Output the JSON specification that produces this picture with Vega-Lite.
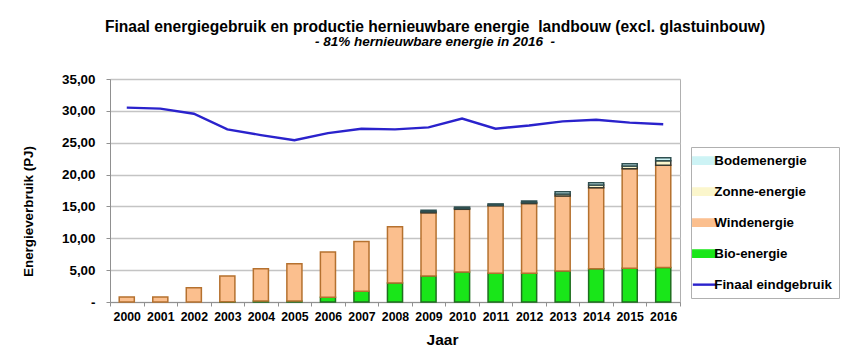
{
  "$schema": "https://vega.github.io/schema/vega-lite/v6.json",
  "autosize": {"type": "none"},
  "width": 570,
  "height": 223,
  "padding": {"left": 110, "top": 79, "right": 179, "bottom": 62},
  "config": {
    "font": "Liberation Sans",
    "view": {"stroke": "#b0b0b0"},
    "axis": {"labelFont": "Liberation Sans", "titleFont": "Liberation Sans", "labelColor": "#000", "titleColor": "#000"}
  },
  "title": {
    "text": "Finaal energiegebruik en productie hernieuwbare energie\u00a0 landbouw (excl. glastuinbouw)",
    "subtitle": "- 81% hernieuwbare energie in 2016\u00a0 -",
    "anchor": "middle",
    "dx": 40,
    "offset": 24,
    "fontSize": 15.6,
    "fontWeight": "bold",
    "color": "#000",
    "subtitleFontSize": 13.5,
    "subtitleFontWeight": "bold",
    "subtitleFontStyle": "italic",
    "subtitleColor": "#000",
    "subtitlePadding": -1
  },
  "datasets": {
    "bars": [
      {"jaar": "2000", "bron": "Windenergie", "pj": 0.8},
      {"jaar": "2001", "bron": "Windenergie", "pj": 0.8},
      {"jaar": "2002", "bron": "Windenergie", "pj": 2.25},
      {"jaar": "2003", "bron": "Bio-energie", "pj": 0.05},
      {"jaar": "2003", "bron": "Windenergie", "pj": 4.05},
      {"jaar": "2004", "bron": "Bio-energie", "pj": 0.15},
      {"jaar": "2004", "bron": "Windenergie", "pj": 5.05},
      {"jaar": "2005", "bron": "Bio-energie", "pj": 0.15},
      {"jaar": "2005", "bron": "Windenergie", "pj": 5.85},
      {"jaar": "2006", "bron": "Bio-energie", "pj": 0.75},
      {"jaar": "2006", "bron": "Windenergie", "pj": 7.1},
      {"jaar": "2007", "bron": "Bio-energie", "pj": 1.7},
      {"jaar": "2007", "bron": "Windenergie", "pj": 7.8},
      {"jaar": "2008", "bron": "Bio-energie", "pj": 3.0},
      {"jaar": "2008", "bron": "Windenergie", "pj": 8.8},
      {"jaar": "2009", "bron": "Bio-energie", "pj": 4.1},
      {"jaar": "2009", "bron": "Windenergie", "pj": 9.9},
      {"jaar": "2009", "bron": "Zonne-energie", "pj": 0.15},
      {"jaar": "2009", "bron": "Bodemenergie", "pj": 0.25},
      {"jaar": "2010", "bron": "Bio-energie", "pj": 4.7},
      {"jaar": "2010", "bron": "Windenergie", "pj": 9.85},
      {"jaar": "2010", "bron": "Zonne-energie", "pj": 0.15},
      {"jaar": "2010", "bron": "Bodemenergie", "pj": 0.2},
      {"jaar": "2011", "bron": "Bio-energie", "pj": 4.5},
      {"jaar": "2011", "bron": "Windenergie", "pj": 10.6},
      {"jaar": "2011", "bron": "Zonne-energie", "pj": 0.1},
      {"jaar": "2011", "bron": "Bodemenergie", "pj": 0.2},
      {"jaar": "2012", "bron": "Bio-energie", "pj": 4.5},
      {"jaar": "2012", "bron": "Windenergie", "pj": 10.95},
      {"jaar": "2012", "bron": "Zonne-energie", "pj": 0.15},
      {"jaar": "2012", "bron": "Bodemenergie", "pj": 0.25},
      {"jaar": "2013", "bron": "Bio-energie", "pj": 4.85},
      {"jaar": "2013", "bron": "Windenergie", "pj": 11.8},
      {"jaar": "2013", "bron": "Zonne-energie", "pj": 0.3},
      {"jaar": "2013", "bron": "Bodemenergie", "pj": 0.35},
      {"jaar": "2014", "bron": "Bio-energie", "pj": 5.2},
      {"jaar": "2014", "bron": "Windenergie", "pj": 12.75},
      {"jaar": "2014", "bron": "Zonne-energie", "pj": 0.4},
      {"jaar": "2014", "bron": "Bodemenergie", "pj": 0.35},
      {"jaar": "2015", "bron": "Bio-energie", "pj": 5.3},
      {"jaar": "2015", "bron": "Windenergie", "pj": 15.6},
      {"jaar": "2015", "bron": "Zonne-energie", "pj": 0.45},
      {"jaar": "2015", "bron": "Bodemenergie", "pj": 0.35},
      {"jaar": "2016", "bron": "Bio-energie", "pj": 5.4},
      {"jaar": "2016", "bron": "Windenergie", "pj": 16.05},
      {"jaar": "2016", "bron": "Zonne-energie", "pj": 0.7},
      {"jaar": "2016", "bron": "Bodemenergie", "pj": 0.5}
    ],
    "lijn": [
      {"jaar": "2000", "pj": 30.5},
      {"jaar": "2001", "pj": 30.35},
      {"jaar": "2002", "pj": 29.55},
      {"jaar": "2003", "pj": 27.1},
      {"jaar": "2004", "pj": 26.2},
      {"jaar": "2005", "pj": 25.4},
      {"jaar": "2006", "pj": 26.5},
      {"jaar": "2007", "pj": 27.2},
      {"jaar": "2008", "pj": 27.1},
      {"jaar": "2009", "pj": 27.4},
      {"jaar": "2010", "pj": 28.8},
      {"jaar": "2011", "pj": 27.2},
      {"jaar": "2012", "pj": 27.7},
      {"jaar": "2013", "pj": 28.35},
      {"jaar": "2014", "pj": 28.6},
      {"jaar": "2015", "pj": 28.15},
      {"jaar": "2016", "pj": 27.9}
    ]
  },
  "encoding": {
    "x": {
      "field": "jaar",
      "type": "ordinal",
      "scale": {"paddingInner": 0, "paddingOuter": 0},
      "axis": {
        "title": "Jaar",
        "titleFontSize": 15.5,
        "titleFontWeight": "bold",
        "titleX": 332,
        "titlePadding": 10,
        "labelAngle": 0,
        "labelFontSize": 12.3,
        "labelFontWeight": "bold",
        "labelPadding": 4,
        "tickBand": "extent",
        "tickColor": "#909090",
        "tickSize": 4,
        "domainColor": "#909090"
      }
    },
    "y": {
      "field": "pj",
      "type": "quantitative",
      "scale": {"domain": [0, 35]},
      "axis": {
        "title": "Energieverbruik (PJ)",
        "titleFontSize": 13.4,
        "titleFontWeight": "bold",
        "titlePadding": 26,
        "titleY": 132,
        "values": [0, 5, 10, 15, 20, 25, 30, 35],
        "labelOverlap": false,
        "labelExpr": "datum.value == 0 ? '-' : replace(format(datum.value, '.2f'), '.', ',')",
        "labelFontSize": 13.4,
        "labelFontWeight": "bold",
        "labelPadding": 11,
        "tickColor": "#909090",
        "tickSize": 4,
        "domainColor": "#909090",
        "gridColor": "#c4c4c4",
        "gridWidth": 1.3
      }
    }
  },
  "layer": [
    {
      "data": {"name": "bars"},
      "transform": [
        {"calculate": "indexof(['Bio-energie', 'Windenergie', 'Zonne-energie', 'Bodemenergie'], datum.bron)", "as": "volgorde"}
      ],
      "mark": {"type": "bar", "width": {"band": 0.45}, "strokeWidth": 1.5},
      "encoding": {
        "order": {"field": "volgorde", "type": "quantitative", "sort": "ascending"},
        "color": {
          "field": "bron",
          "type": "nominal",
          "scale": {
            "domain": ["Bio-energie", "Windenergie", "Zonne-energie", "Bodemenergie", "Finaal eindgebruik"],
            "range": ["#19e619", "#fbbf8e", "#fbf6cc", "#cdf3f5", "#2a22cc"]
          },
          "legend": {
            "orient": "none",
            "legendX": 581,
            "legendY": 68,
            "title": null,
            "values": ["Bodemenergie", "Zonne-energie", "Windenergie", "Bio-energie", "Finaal eindgebruik"],
            "symbolSize": 560,
            "symbolStrokeWidth": 1.5,
            "rowPadding": 16,
            "labelFontSize": 13.3,
            "labelFontWeight": "bold",
            "labelColor": "#000",
            "labelOffset": 3,
            "padding": 7,
            "strokeColor": "#b0b0b0",
            "encode": {
              "symbols": {
                "update": {
                  "shape": {"signal": "datum.value === 'Finaal eindgebruik' ? 'stroke' : 'M-1,-0.3H1V0.3H-1Z'"},
                  "size": {"value": 560},
                  "fill": {"signal": "datum.value === 'Finaal eindgebruik' ? 'transparent' : scale('color', datum.value)"},
                  "stroke": {"signal": "datum.value === 'Finaal eindgebruik' ? '#2a22cc' : datum.value === 'Bio-energie' ? '#1f6e1f' : datum.value === 'Windenergie' ? '#b5712f' : datum.value === 'Zonne-energie' ? '#555545' : '#3f6f70'"},
                  "strokeWidth": {"signal": "datum.value === 'Finaal eindgebruik' ? 2.4 : 1.5"},
                  "strokeOpacity": {"value": 1},
                  "fillOpacity": {"value": 1},
                  "opacity": {"value": 1}
                }
              }
            }
          }
        },
        "stroke": {
          "field": "bron",
          "type": "nominal",
          "scale": {
            "domain": ["Bio-energie", "Windenergie", "Zonne-energie", "Bodemenergie"],
            "range": ["#1f6e1f", "#b5712f", "#3a3a30", "#2f4f50"]
          },
          "legend": null
        }
      }
    },
    {
      "data": {"name": "lijn"},
      "mark": {"type": "line", "strokeWidth": 2.4},
      "encoding": {
        "color": {"datum": "Finaal eindgebruik"}
      }
    }
  ]
}
